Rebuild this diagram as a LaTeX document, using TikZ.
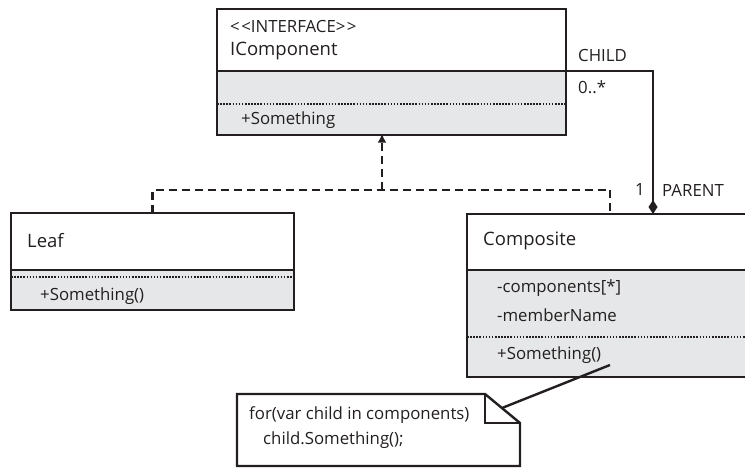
\documentclass[tikz,border=0pt]{standalone}
\usepackage{fontspec}
\setmainfont{Open Sans}
\usetikzlibrary{arrows.meta,calc}
\definecolor{bodygray}{RGB}{230,231,232}
\definecolor{ink}{RGB}{35,31,32}
\begin{document}
\begin{tikzpicture}[x=1pt,y=-1pt,
  box/.style={draw=ink, line width=2.7pt, inner sep=0pt, outer sep=0pt, anchor=north west},
  hdr/.style={box, fill=white},
  bdy/.style={box, fill=bodygray},
  dotline/.style={draw=ink, line width=2pt, dash pattern=on 1.6pt off 1.5pt},
  ttl/.style={font=\fontsize{18.5}{22}\selectfont, anchor=west, inner sep=0pt, text=ink},
  mem/.style={font=\fontsize{16.8}{20}\selectfont, anchor=west, inner sep=0pt, text=ink},
  dashconn/.style={draw=ink, line width=2.6pt, dash pattern=on 8pt off 5pt},
  assoc/.style={draw=ink, line width=2.4pt},
  noteline/.style={draw=ink, line width=2.4pt},
]
\useasboundingbox (0,0) rectangle (745,468);

% IComponent
\node[bdy, minimum width=349pt, minimum height=64pt] (icb) at (217,71) {};
\node[hdr, minimum width=349pt, minimum height=62pt] (ich) at (217,9) {};
\draw[dotline] (217,104) -- (566,104);
\node[mem] (icst) at (230,27) {<\kern1.5pt<INTERFACE>\kern1.5pt>};
\node[ttl] (icname) at (230,51) {IComponent};
\node[mem] (icop) at (241,120) {+Something};

% Leaf
\node[bdy, minimum width=283pt, minimum height=40pt] (lfb) at (11,270) {};
\node[hdr, minimum width=283pt, minimum height=57pt] (lfh) at (11,213) {};
\draw[dotline] (11,277) -- (294,277);
\node[ttl] (lfname) at (27,241) {Leaf};
\node[mem] (lfop) at (40,296) {+Something()};

% Composite
\node[bdy, minimum width=300pt, minimum height=107pt] (cpb) at (467,270) {};
\node[hdr, minimum width=300pt, minimum height=56pt] (cph) at (467,214) {};
\draw[dotline] (467,337) -- (767,337);
\node[ttl] (cpname) at (483,241) {Composite};
\node[mem] (cpa1) at (497,288) {-components[*]};
\node[mem] (cpa2) at (497,315) {-memberName};
\node[mem] (cpop) at (497,355) {+Something()};

% Generalization
\coordinate (gtip) at (382,135);
\coordinate (gjoin) at (382,190);
\coordinate (gcomp) at (610,214);
\draw[dashconn] (lfh.north) |- (gjoin) -| (gcomp);
\draw[dashconn, -{Latex[length=9pt,width=9pt]}] (gjoin) -- ([yshift=1.3pt]gtip);

% Composition
\coordinate (cpar) at (653,214);
\draw[assoc, -{Diamond[length=14pt,width=9pt]}] (ich.south east) -| (cpar);
\node[mem] (lchild) at (578,56) {CHILD};
\node[mem] (lmult) at (578,87) {0..*};
\node[mem, anchor=center] (lone) at (640,190) {1};
\node[mem] (lparent) at (662,190) {PARENT};

% Note
\node[mem] (nt1) at (249,415) {for(var child in components)};
\node[mem] (nt2) at (263,440) {child.Something();};
\coordinate (nfold) at (502,408);
\draw[noteline, line join=miter] (237,394) -- (485,394) -- (520,423) -- (520,466) -- (237,466) -- cycle;
\draw[noteline] (485,394) -- (485,423) -- (520,423);
\coordinate (nsrc) at (610,365);
\draw[noteline] (nsrc) -- (nfold);
\end{tikzpicture}
\end{document}
